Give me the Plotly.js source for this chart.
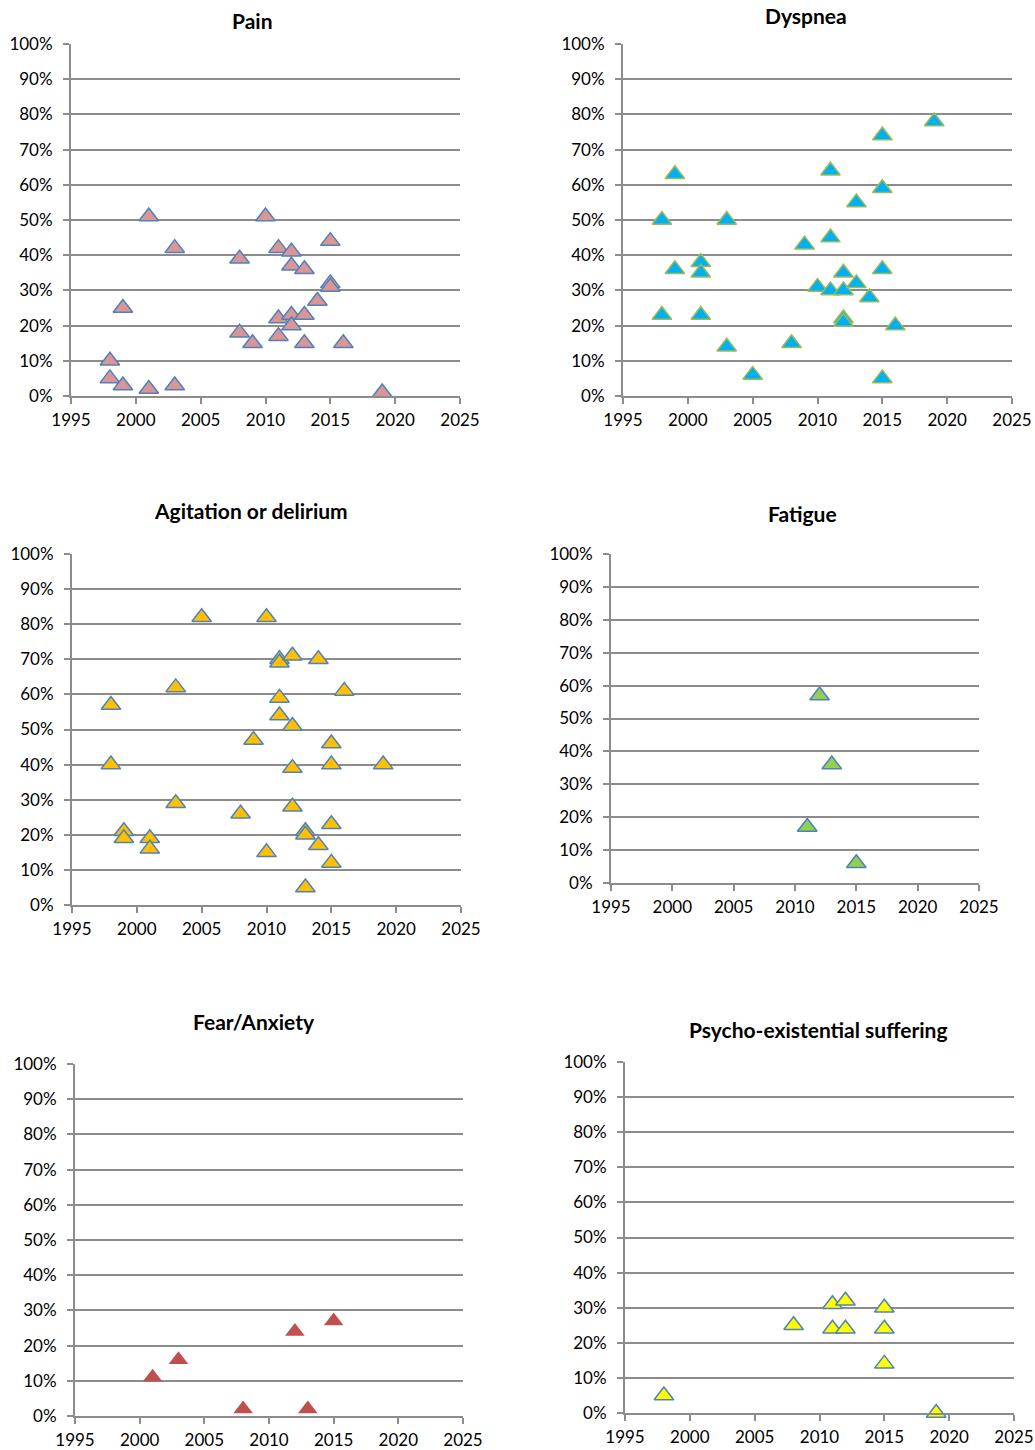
<!DOCTYPE html>
<html>
<head>
<meta charset="utf-8">
<script src="https://cdn.plot.ly/plotly-3.0.1.min.js"></script>
<style>html,body{margin:0;padding:0;background:#fff;}#chart{width:1035px;height:1450px;}</style>
</head>
<body>
<div id="chart"></div>
<script>
// ---- Data (year of study, % of patients) ----
const titles = ["Pain", "Dyspnea", "Agitation or delirium", "Fatigue", "Fear/Anxiety", "Psycho-existential suffering"];

const painYear = [2001, 2003, 2008, 2010, 2011, 2012, 2012, 2013, 2015, 2015, 2015, 2014, 1999, 2011, 2012, 2012, 2013, 2008, 2009, 2011, 2013, 2016, 1998, 1998, 1999, 2001, 2003, 2019];
const painPct  = [51, 42, 39, 51, 42, 41, 37, 36, 44, 32, 31, 27, 25, 22, 23, 20, 23, 18, 15, 17, 15, 15, 10, 5, 3, 2, 3, 1];

const dyspYear = [2019, 2015, 1999, 2011, 2015, 2013, 1998, 2003, 2009, 2011, 2001, 2001, 1999, 2012, 2015, 2010, 2011, 2012, 2013, 2014, 1998, 2001, 2012, 2012, 2016, 2003, 2008, 2005, 2015];
const dyspPct  = [78, 74, 63, 64, 59, 55, 50, 50, 43, 45, 38, 35, 36, 35, 36, 31, 30, 30, 32, 28, 23, 23, 22, 21, 20, 14, 15, 6, 5];

const agitYear = [2005, 2010, 2011, 2011, 2012, 2014, 2003, 2016, 1998, 2011, 2011, 2012, 2009, 2015, 1998, 2012, 2015, 2019, 2003, 2012, 2008, 2015, 1999, 1999, 2001, 2001, 2013, 2013, 2014, 2010, 2015, 2013];
const agitPct  = [82, 82, 70, 69, 71, 70, 62, 61, 57, 59, 54, 51, 47, 46, 40, 39, 40, 40, 29, 28, 26, 23, 21, 19, 19, 16, 21, 20, 17, 15, 12, 5];

const fatYear = [2012, 2013, 2011, 2015];
const fatPct  = [57, 36, 17, 6];

const fearYear = [2001, 2003, 2008, 2012, 2013, 2015];
const fearPct  = [11, 16, 2, 24, 2, 27];

const psyYear = [1998, 2008, 2011, 2012, 2015, 2011, 2012, 2015, 2015, 2019];
const psyPct  = [5, 25, 31, 32, 30, 24, 24, 24, 14, 0];

const xTickVals = [1995, 2000, 2005, 2010, 2015, 2020, 2025];
const yTickVals = [0, 10, 20, 30, 40, 50, 60, 70, 80, 90, 100];
const yTickText = yTickVals.map(v => v + "%");

// ---- Styling ----
const W = 1035, H = 1450;
const panels = [
  {x: painYear, y: painPct, fill: "#D99694", line: "#4F81BD", lw: 1.5, px: [71, 460], py: [44, 396], t: [252, 20]},
  {x: dyspYear, y: dyspPct, fill: "#00B0F0", line: "#9BBB59", lw: 1.5, px: [623, 1012], py: [44, 396], t: [806, 15]},
  {x: agitYear, y: agitPct, fill: "#FFC000", line: "#4F81BD", lw: 1.5, px: [72, 461], py: [554, 905], t: [251, 510]},
  {x: fatYear, y: fatPct, fill: "#92D050", line: "#4F81BD", lw: 1.5, px: [611, 979], py: [554, 883], t: [802, 513]},
  {x: fearYear, y: fearPct, fill: "#C0504D", line: "#C0504D", lw: 0, px: [75, 463], py: [1064, 1416], t: [254, 1021]},
  {x: psyYear, y: psyPct, fill: "#FFFF00", line: "#4F81BD", lw: 1.5, px: [625, 1014], py: [1062, 1413], t: [818, 1029]}
];

const gridCol = "#8C8C8C";
const tickFont = {family: "Lato, 'Open Sans', sans-serif", size: 17, color: "#000"};
const titleFont = {family: "Lato, 'Open Sans', sans-serif", size: 21, color: "#000", weight: "bold"};

const data = [];
const layout = {
  width: W, height: H,
  margin: {l: 0, r: 0, t: 0, b: 0},
  paper_bgcolor: "#fff", plot_bgcolor: "#fff",
  showlegend: false,
  annotations: []
};

panels.forEach((p, i) => {
  const n = i + 1;
  const sfx = (n === 1 ? "" : String(n));
  data.push({
    type: "scatter", mode: "markers",
    x: p.x, y: p.y,
    xaxis: "x" + sfx, yaxis: "y" + sfx,
    cliponaxis: false,
    marker: {symbol: "triangle-up", size: 17, color: p.fill, line: {color: p.line, width: p.lw}},
    hoverinfo: "x+y"
  });
  layout["xaxis" + sfx] = {
    domain: [p.px[0] / W, p.px[1] / W],
    range: [1995, 2025],
    tickvals: xTickVals,
    ticks: "outside", ticklen: 6, tickcolor: gridCol, tickwidth: 2,
    ticklabelstandoff: 2,
    showgrid: false, zeroline: false,
    showline: true, linecolor: gridCol, linewidth: 2,
    tickfont: tickFont,
    anchor: "y" + sfx,
    fixedrange: true
  };
  layout["yaxis" + sfx] = {
    domain: [1 - p.py[1] / H, 1 - p.py[0] / H],
    range: [0, 100],
    tickvals: yTickVals, ticktext: yTickText,
    ticks: "outside", ticklen: 6, tickcolor: gridCol, tickwidth: 2,
    ticklabelstandoff: 7,
    showgrid: true, gridcolor: gridCol, gridwidth: 2,
    zeroline: false,
    showline: true, linecolor: gridCol, linewidth: 2,
    tickfont: tickFont,
    anchor: "x" + sfx,
    fixedrange: true
  };
  layout.annotations.push({
    text: "<b>" + titles[i] + "</b>",
    xref: "paper", yref: "paper",
    x: p.t[0] / W, y: 1 - p.t[1] / H,
    xanchor: "center", yanchor: "middle",
    showarrow: false,
    font: titleFont
  });
});

Plotly.newPlot("chart", data, layout, {displayModeBar: false, staticPlot: true});
</script>
</body>
</html>
